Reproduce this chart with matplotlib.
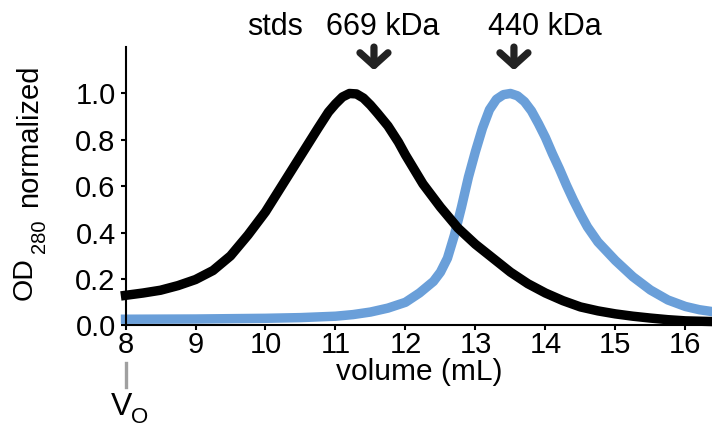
import matplotlib
matplotlib.use("Agg")
import matplotlib.pyplot as plt

plt.rcParams['font.family'] = ['Liberation Sans', 'DejaVu Sans']

# elution profiles (volume in mL, OD280 normalized)
black_x = [8.0, 8.25, 8.5, 8.75, 9.0, 9.25, 9.5, 9.75, 10.0, 10.25, 10.5, 10.75,
           10.9, 11.0, 11.1, 11.2, 11.3, 11.4, 11.5, 11.6, 11.75, 11.9, 12.0,
           12.25, 12.5, 12.75, 13.0, 13.25, 13.5, 13.75, 14.0, 14.25, 14.5,
           14.75, 15.0, 15.25, 15.5, 15.75, 16.0, 16.38]
black_y = [0.13, 0.14, 0.152, 0.172, 0.198, 0.237, 0.30, 0.39, 0.49, 0.61, 0.73, 0.85,
           0.92, 0.955, 0.985, 1.0, 0.998, 0.98, 0.95, 0.915, 0.86, 0.79, 0.735,
           0.61, 0.51, 0.42, 0.35, 0.29, 0.23, 0.18, 0.14, 0.107, 0.08,
           0.063, 0.05, 0.04, 0.032, 0.025, 0.02, 0.017]

blue_x = [8.0, 9.0, 10.0, 10.5, 11.0, 11.25, 11.5, 11.75, 12.0, 12.1, 12.2, 12.3,
          12.4, 12.5, 12.6, 12.7, 12.8, 12.9, 13.0, 13.1, 13.2, 13.3, 13.4, 13.5,
          13.6, 13.7, 13.8, 13.9, 14.0, 14.1, 14.2, 14.3, 14.4, 14.5, 14.6, 14.75,
          15.0, 15.25, 15.5, 15.75, 16.0, 16.2, 16.38]
blue_y = [0.027, 0.028, 0.031, 0.034, 0.04, 0.047, 0.058, 0.075, 0.1, 0.12, 0.14, 0.165,
          0.19, 0.23, 0.29, 0.39, 0.51, 0.64, 0.75, 0.85, 0.93, 0.975, 0.995, 1.0,
          0.99, 0.965, 0.925, 0.87, 0.81, 0.74, 0.675, 0.605, 0.54, 0.48, 0.425, 0.36,
          0.28, 0.21, 0.153, 0.11, 0.082, 0.068, 0.06]

std_labels = ['669 kDa', '440 kDa']
std_volume = [11.55, 13.55]
void_volume = 8.0

x_ticks = [8, 9, 10, 11, 12, 13, 14, 15, 16]
y_ticks = [0.0, 0.2, 0.4, 0.6, 0.8, 1.0]

fig = plt.figure(figsize=(7.12, 4.28), dpi=100)
ax = fig.add_axes([0.1763, 0.2395, 0.8237, 0.6505])

ax.plot(blue_x, blue_y, color='#6a9fd9', lw=6.8, solid_joinstyle='round', clip_on=False, zorder=2)
ax.plot(black_x, black_y, color='black', lw=6.8, solid_joinstyle='round', clip_on=False, zorder=3)

ax.set_xlim(8, 16.38)
ax.set_ylim(0, 1.2)
ax.set_xticks(x_ticks)
ax.set_yticks(y_ticks)
ax.set_yticklabels([f"{v:.1f}" for v in y_ticks])
for s in ['top', 'right']:
    ax.spines[s].set_visible(False)
for s in ['left', 'bottom']:
    ax.spines[s].set_linewidth(1.5)
    ax.spines[s].set_zorder(5)
ax.tick_params(direction='out', length=3.6, width=1.5, labelsize=21, colors='black')
ax.tick_params(axis='x', pad=0.5)
ax.tick_params(axis='y', pad=3.5)
ax.set_xlabel('volume (mL)', fontsize=21.5, labelpad=-1)

# y label: OD280 with "normalized" stacked above
fig.text(0.0449, 0.299, 'OD', rotation=90, rotation_mode='anchor', ha='left', va='baseline', fontsize=20.5)
fig.text(0.0632, 0.409, '280', rotation=90, rotation_mode='anchor', ha='left', va='baseline', fontsize=14.5)
fig.text(0.052, 0.517, 'normalized', rotation=90, rotation_mode='anchor', ha='left', va='baseline', fontsize=21)

# standards markers
ax.text(10.14, 1.252, 'stds', ha='center', va='baseline', fontsize=22, clip_on=False)
text_x = [11.67, 13.99]
for lab, v, tx in zip(std_labels, std_volume, text_x):
    ax.text(tx, 1.252, lab, ha='center', va='baseline', fontsize=22, clip_on=False)
    ax.annotate('', xy=(v, 1.1), xytext=(v, 1.2), annotation_clip=False,
                arrowprops=dict(arrowstyle='->,head_length=0.65,head_width=0.72', lw=5.2,
                                color='#222222', capstyle='round', joinstyle='round',
                                shrinkA=0, shrinkB=0, mutation_scale=14))

# void volume marker
trans = ax.get_xaxis_transform()
ax.plot([void_volume, void_volume], [-0.135, -0.221], color='#a0a0a0', lw=2.4,
        transform=trans, clip_on=False)
ax.text(void_volume - 0.06, -0.321, 'V', ha='center', va='baseline', fontsize=23,
        transform=trans, clip_on=False)
ax.text(void_volume + 0.2, -0.35, 'O', ha='center', va='baseline', fontsize=16,
        transform=trans, clip_on=False)

fig.savefig('out.png', dpi=100)
